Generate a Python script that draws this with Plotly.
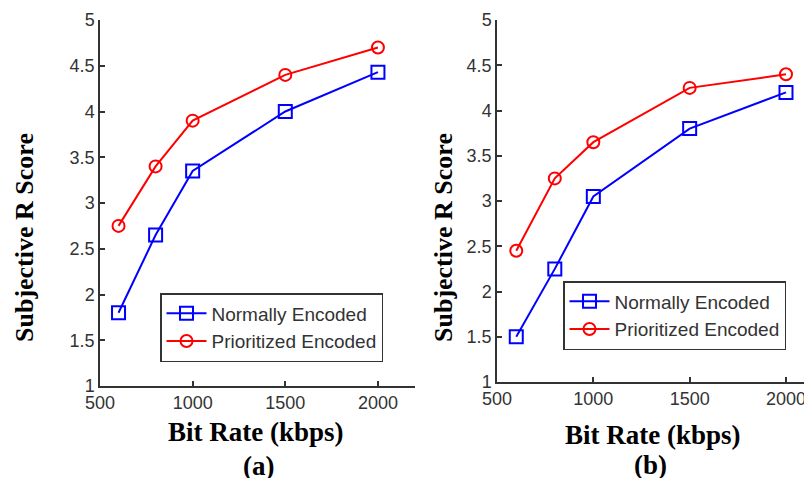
import plotly.graph_objects as go

bit_rate = [600, 800, 1000, 1500, 2000]
a_normal = [1.8, 2.65, 3.35, 4.0, 4.43]
a_prior = [2.75, 3.4, 3.9, 4.4, 4.7]
b_normal = [1.5, 2.25, 3.05, 3.8, 4.2]
b_prior = [2.45, 3.25, 3.65, 4.25, 4.4]
series_names = ["Normally Encoded", "Prioritized Encoded"]
x_ticks = [500, 1000, 1500, 2000]
y_ticks = [1, 1.5, 2, 2.5, 3, 3.5, 4, 4.5, 5]
y_tick_text = ["1", "1.5", "2", "2.5", "3", "3.5", "4", "4.5", "5"]

BLUE = "#0000FF"
RED = "#FF0000"
AX = "#333333"
W, H = 812, 478
OFF = 8  # page body margin


def px(x):
    return (x - OFF) / W


def py(y):
    return 1 - (y - OFF) / H


fig = go.Figure()


def add_pair(xa, ya, normal, prior, legend):
    fig.add_trace(go.Scatter(
        x=bit_rate, y=normal, name=series_names[0], mode="lines+markers",
        xaxis=xa, yaxis=ya, legend=legend,
        line=dict(color=BLUE, width=2),
        marker=dict(symbol="square-open", size=13, color=BLUE, line=dict(width=2))))
    fig.add_trace(go.Scatter(
        x=bit_rate, y=prior, name=series_names[1], mode="lines+markers",
        xaxis=xa, yaxis=ya, legend=legend,
        line=dict(color=RED, width=2),
        marker=dict(symbol="circle-open", size=12, color=RED, line=dict(width=2))))


add_pair("x", "y", a_normal, a_prior, "legend")
add_pair("x2", "y2", b_normal, b_prior, "legend2")

tickfont = dict(family="Arial, Liberation Sans", size=18, color=AX)
common_x = dict(tickvals=x_ticks, ticktext=[str(v) for v in x_ticks], ticks="inside",
                ticklen=5, tickcolor=AX, tickwidth=1.5, showline=True, linecolor=AX,
                linewidth=1.5, showgrid=False, zeroline=False, tickfont=tickfont,
                automargin=False)
common_y = dict(range=[1, 5], tickvals=y_ticks, ticktext=y_tick_text, ticks="inside",
                ticklen=5, tickcolor=AX, tickwidth=1.5, showline=True, linecolor=AX,
                linewidth=1.5, showgrid=False, zeroline=False, tickfont=tickfont,
                automargin=False)

legfont = dict(family="Arial, Liberation Sans", size=19, color=AX)
fig.update_layout(
    width=W, height=H,
    margin=dict(l=0, r=0, t=0, b=0, autoexpand=False),
    paper_bgcolor="white", plot_bgcolor="white",
    xaxis=dict(domain=[px(100), px(415)], range=[500, 2200], anchor="y", **common_x),
    yaxis=dict(domain=[py(386), py(20)], anchor="x", **common_y),
    xaxis2=dict(domain=[px(497), px(812)], range=[500, 2135], anchor="y2", **common_x),
    yaxis2=dict(domain=[py(382), py(20)], anchor="x2", **common_y),
    legend=dict(x=px(160), y=py(293), xanchor="left", yanchor="top",
                bgcolor="white", bordercolor=AX, borderwidth=1.5,
                font=legfont, tracegroupgap=0, itemwidth=40),
    legend2=dict(x=px(563), y=py(281), xanchor="left", yanchor="top",
                 bgcolor="white", bordercolor=AX, borderwidth=1.5,
                 font=legfont, tracegroupgap=0, itemwidth=40),
)

title_font = dict(family="Times New Roman, Liberation Serif", size=27, color="black")
annots = [
    dict(x=px(256), y=py(432), text="<b>Bit Rate (kbps)</b>"),
    dict(x=px(653), y=py(435), text="<b>Bit Rate (kbps)</b>"),
    dict(x=px(258), y=py(466), text="<b>(a)</b>"),
    dict(x=px(650), y=py(465), text="<b>(b)</b>"),
    dict(x=px(24), y=py(238), text="<b>Subjective R Score</b>", textangle=-90, font_size=26),
    dict(x=px(443), y=py(238), text="<b>Subjective R Score</b>", textangle=-90, font_size=26),
]
for a in annots:
    fs = a.pop("font_size", 27)
    fig.add_annotation(xref="paper", yref="paper", showarrow=False,
                       xanchor="center", yanchor="middle",
                       font=dict(title_font, size=fs), **a)

fig.write_html("out.html")
